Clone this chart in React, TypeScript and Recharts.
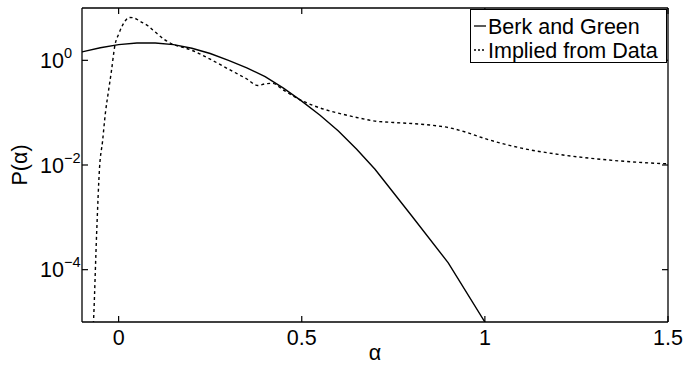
import React from 'react';
import { LineChart, Line, XAxis, YAxis, Legend } from 'recharts';

// Berk and Green (solid)
const berkAlpha = [-0.1, -0.05, 0, 0.05, 0.1, 0.15, 0.2, 0.25, 0.3, 0.35, 0.4, 0.45, 0.5, 0.55, 0.6, 0.65, 0.7, 0.8, 0.9, 1.0];
const berkP = [1.45, 1.74, 2.0, 2.14, 2.14, 2.0, 1.7, 1.35, 1.0, 0.72, 0.49, 0.295, 0.166, 0.089, 0.0447, 0.02, 0.0083, 0.00107, 0.000135, 0.00001];

// Implied from Data (dotted)
const impliedAlpha = [-0.072, -0.068, -0.06, -0.052, -0.044, -0.036, -0.028, -0.02, -0.01, 0, 0.01, 0.02, 0.03, 0.04, 0.06, 0.08, 0.1, 0.125, 0.15, 0.175, 0.2, 0.25, 0.3, 0.35, 0.38, 0.4, 0.42, 0.45, 0.5, 0.55, 0.6, 0.65, 0.7, 0.75, 0.8, 0.85, 0.9, 0.95, 1.0, 1.1, 1.2, 1.3, 1.4, 1.5];
const impliedP = [3.2e-6, 1.26e-5, 5.0e-4, 9.1e-3, 0.028, 0.1, 0.25, 0.6, 1.95, 3.16, 4.57, 5.9, 6.6, 6.5, 5.5, 4.57, 3.47, 2.5, 2.0, 1.78, 1.55, 1.05, 0.68, 0.44, 0.33, 0.355, 0.363, 0.27, 0.17, 0.123, 0.098, 0.081, 0.069, 0.065, 0.062, 0.058, 0.052, 0.042, 0.032, 0.021, 0.016, 0.0132, 0.0115, 0.0105];

const xTicks = [0, 0.5, 1, 1.5];
const xTickLabels = ['0', '0.5', '1', '1.5'];
const yTicks = [1e-4, 1e-2, 1];
const yTickExponents = ['\u22124', '\u22122', '0'];
const seriesNames = ['Berk and Green', 'Implied from Data'];
const xLabel = '\u03b1';
const yLabel = 'P(\u03b1)';

const berkData = berkAlpha.map((a, i) => ({ a, p: berkP[i] }));
const impliedData = impliedAlpha.map((a, i) => ({ a, p: impliedP[i] }));

const FONT = '"Liberation Sans", Arial, Helvetica, sans-serif';
const TICK_LEN = 6;

const BottomTick = (props: any) => {
  const { x, y, payload } = props;
  const idx = xTicks.indexOf(payload.value);
  return (
    <g>
      <line x1={x} x2={x} y1={y} y2={y - TICK_LEN} stroke="#000" strokeWidth={1.2} />
      <text x={x} y={y + 23} textAnchor="middle" fontFamily={FONT} fontSize={21.5} fill="#000">
        {idx >= 0 ? xTickLabels[idx] : ''}
      </text>
    </g>
  );
};

const TopTick = (props: any) => {
  const { x, y } = props;
  return <line x1={x} x2={x} y1={y} y2={y + TICK_LEN} stroke="#000" strokeWidth={1.2} />;
};

const LeftTick = (props: any) => {
  const { x, y, payload } = props;
  const idx = yTicks.findIndex((t) => Math.abs(t - payload.value) / t < 1e-6);
  return (
    <g>
      <line x1={x} x2={x + TICK_LEN} y1={y} y2={y} stroke="#000" strokeWidth={1.2} />
      <text x={x - 42} y={y + 7.5} textAnchor="start" fontFamily={FONT} fontSize={21.5} fill="#000">
        <tspan>10</tspan>
        <tspan dy={-10} fontSize={14.5}>{idx >= 0 ? yTickExponents[idx] : ''}</tspan>
      </text>
    </g>
  );
};

const RightTick = (props: any) => {
  const { x, y } = props;
  return <line x1={x} x2={x - TICK_LEN} y1={y} y2={y} stroke="#000" strokeWidth={1.2} />;
};

const YLabel = (props: any) => {
  const vb = props.viewBox || { x: 0, y: 8, width: 82, height: 314 };
  const cx = vb.x + 20;
  const cy = vb.y + vb.height / 2;
  return (
    <text
      transform={`translate(${cx}, ${cy}) rotate(-90)`}
      textAnchor="middle"
      dominantBaseline="central"
      fontFamily={FONT}
      fontSize={21.5}
      fill="#000"
    >
      {yLabel}
    </text>
  );
};

const XLabel = (props: any) => {
  const vb = props.viewBox || { x: 82, y: 322, width: 586, height: 46 };
  return (
    <text
      x={vb.x + vb.width / 2}
      y={vb.y + 38}
      textAnchor="middle"
      fontFamily={FONT}
      fontSize={21.5}
      fill="#000"
    >
      {xLabel}
    </text>
  );
};

const LegendBox = () => (
  <div
    style={{
      width: 197,
      height: 54,
      border: '1px solid #000',
      background: '#fff',
      boxSizing: 'border-box',
    }}
  >
    <svg width={195} height={52} style={{ display: 'block' }}>
      <line x1={3} x2={15} y1={16} y2={16} stroke="#000" strokeWidth={1.3} />
      <text x={17} y={23.5} fontFamily={FONT} fontSize={21.5} fill="#000">{seriesNames[0]}</text>
      <line x1={3} x2={15} y1={40} y2={40} stroke="#000" strokeWidth={1.3} strokeDasharray="2 2" />
      <text x={17} y={47.5} fontFamily={FONT} fontSize={21.5} fill="#000">{seriesNames[1]}</text>
    </svg>
  </div>
);

export default function App() {
  return (
    <div style={{ position: 'absolute', left: 0, top: 0, background: '#fff' }}>
      <LineChart width={684} height={368} margin={{ top: 7, right: 15, left: 0, bottom: 0 }}>
        <XAxis
          xAxisId="bottom"
          dataKey="a"
          type="number"
          domain={[-0.1, 1.5]}
          ticks={xTicks}
          allowDataOverflow
          height={46}
          tickSize={0}
          tickMargin={0}
          tickLine={false}
          axisLine={{ stroke: '#000', strokeWidth: 1.3 }}
          tick={<BottomTick />}
          interval={0}
          label={<XLabel />}
        />
        <XAxis
          xAxisId="top"
          orientation="top"
          dataKey="a"
          type="number"
          domain={[-0.1, 1.5]}
          ticks={xTicks}
          allowDataOverflow
          height={1}
          tickSize={0}
          tickMargin={0}
          tickLine={false}
          axisLine={{ stroke: '#000', strokeWidth: 1.3 }}
          tick={<TopTick />}
          interval={0}
        />
        <YAxis
          yAxisId="left"
          scale="log"
          type="number"
          domain={[1e-5, 10]}
          ticks={yTicks}
          allowDataOverflow
          width={82}
          tickSize={0}
          tickMargin={0}
          tickLine={false}
          axisLine={{ stroke: '#000', strokeWidth: 1.3 }}
          tick={<LeftTick />}
          interval={0}
          label={<YLabel />}
        />
        <YAxis
          yAxisId="right"
          orientation="right"
          scale="log"
          type="number"
          domain={[1e-5, 10]}
          ticks={yTicks}
          allowDataOverflow
          width={1}
          tickSize={0}
          tickMargin={0}
          tickLine={false}
          axisLine={{ stroke: '#000', strokeWidth: 1.3 }}
          tick={<RightTick />}
          interval={0}
        />
        <Legend
          layout="vertical"
          align="center"
          verticalAlign="middle"
          content={<LegendBox />}
          wrapperStyle={{ left: 470, top: 9, width: 197, height: 54 }}
        />
        <Line
          xAxisId="top"
          yAxisId="right"
          data={berkData}
          dataKey="p"
          legendType="none"
          stroke="none"
          dot={false}
          activeDot={false}
          isAnimationActive={false}
        />
        <Line
          xAxisId="bottom"
          yAxisId="left"
          data={berkData}
          dataKey="p"
          name={seriesNames[0]}
          type="linear"
          stroke="#000"
          strokeWidth={1.4}
          dot={false}
          activeDot={false}
          isAnimationActive={false}
        />
        <Line
          xAxisId="bottom"
          yAxisId="left"
          data={impliedData}
          dataKey="p"
          name={seriesNames[1]}
          type="monotoneX"
          stroke="#000"
          strokeWidth={1.4}
          strokeDasharray="3 3"
          dot={false}
          activeDot={false}
          isAnimationActive={false}
        />
      </LineChart>
    </div>
  );
}
